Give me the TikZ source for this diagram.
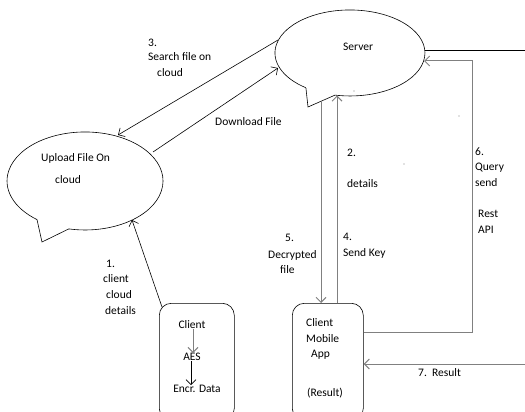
\documentclass[tikz,border=0pt]{standalone}
\usepackage{fontspec}
\setmainfont{Carlito}
\usetikzlibrary{arrows.meta}
\begin{document}
\begin{tikzpicture}[x=1pt,y=1pt,
  lbl/.style={anchor=west, inner sep=0pt, font=\fontsize{11.5}{14}\selectfont},
  ctr/.style={anchor=center, inner sep=0pt, font=\fontsize{11.5}{14}\selectfont},
  blk/.style={draw=black, line width=0.6pt},
  gry/.style={draw={rgb,1:red,0.5;green,0.5;blue,0.5}, line width=1pt},
  >={Straight Barb[length=5pt,width=10pt]}]
\useasboundingbox (0,0) rectangle (525,-412);
\clip (0,0) rectangle (525,-412);

% Server callout
\draw[blk] (305.9,-87.8) -- (308,-107) -- (335,-95.1)
  arc[start angle=258.5, end angle=594, x radius=75, y radius=43];
% Upload callout
\draw[blk] (37,-219.6) -- (42,-242) -- (68.8,-228.9)
  arc[start angle=258, end angle=592, x radius=78, y radius=49];

% connector end points on the callouts
\coordinate (s1) at (278,-40);
\coordinate (s2) at (278,-68);
\coordinate (s3) at (337,-95.5);
\coordinate (s4) at (424,-61);
\coordinate (s5) at (425,-50);
\coordinate (t5) at (321,-101.2);
\coordinate (u1) at (118,-135);
\coordinate (u2) at (153,-152);
\coordinate (u3) at (132,-220);
\coordinate (c1) at (162,-307);
\coordinate (e1) at (525,-50);
\coordinate (e2) at (525,-364);

% boxes
\node[blk, rounded corners=12pt, minimum width=75pt, minimum height=117pt, anchor=north west, inner sep=0pt] (cbox) at (159,-303) {};
\node[blk, rounded corners=12pt, minimum width=71pt, minimum height=117pt, anchor=north west, inner sep=0pt] (mob) at (292,-303) {};

% texts
\node[lbl] (srv) at (343,-47) {Server};
\node[lbl] (up1) at (41,-158) {Upload File On};
\node[lbl] (up2) at (55,-180) {cloud};
\node[lbl] (l3a) at (148,-43) {3.};
\node[lbl] (l3b) at (148,-57) {Search file on};
\node[lbl] (l3c) at (157,-73) {cloud};
\node[lbl] (dl) at (215,-122) {Download File};
\node[lbl] (l2a) at (347,-153) {2.};
\node[lbl] (l2b) at (347,-184) {details};
\node[lbl] (l4a) at (343,-237) {4.};
\node[lbl] (l4b) at (343,-253) {Send Key};
\node[lbl] (l5a) at (285,-238) {5.};
\node[lbl] (l5b) at (268,-255) {Decrypted};
\node[lbl] (l5c) at (280,-270) {file};
\node[lbl] (l6a) at (475,-152) {6.};
\node[lbl] (l6b) at (475,-168) {Query};
\node[lbl] (l6c) at (475,-183) {send};
\node[lbl] (l6d) at (478,-214) {Rest};
\node[lbl] (l6e) at (478,-230) {API};
\node[lbl] (l1a) at (106,-264) {1.};
\node[lbl] (l1b) at (103,-279) {client};
\node[lbl] (l1c) at (106,-295) {cloud};
\node[lbl] (l1d) at (105,-311) {details};
\node[ctr] (cl) at (192,-325) {Client};
\node[ctr] (aes) at (192,-357) {AES};
\node[ctr] (encr) at (197,-389) {Encr. Data};
\node[lbl] (m1) at (306,-323) {Client};
\node[lbl] (m2) at (306,-339) {Mobile};
\node[lbl] (m3) at (311,-355) {App};
\node[lbl] (m4) at (307,-393) {(Result)};
\node[lbl] (l7) at (418,-373) {7.\ \ Result};

% stray dots
\fill[gray] (354,-91) circle (0.6pt);
\fill[gray] (404,-164) circle (0.6pt);
\fill[gray] (459,-116) circle (0.6pt);

% connectors
\draw[blk,->] (s1) -- (u1);
\draw[blk,->] (u2) -- (s2);
\draw[blk,->] (c1) -- (u3);
\draw[blk] (s5) -- (e1);
\draw[gry,->] (t5) -- (t5 |- mob.north);
\draw[gry,->] (s3 |- mob.north) -- (s3);
\draw[gry,->] (mob.east |- 0,-332) -- (472,-332) -- (472,-61) -- (s4);
\draw[gry,->] (e2) -- (mob.east |- e2);
\draw[gry,->] (cl.south -| 193,0) -- (aes.north -| 193,0);
\draw[blk,->] (aes.south -| 191,0) -- (encr.north -| 191,0);
\end{tikzpicture}
\end{document}
